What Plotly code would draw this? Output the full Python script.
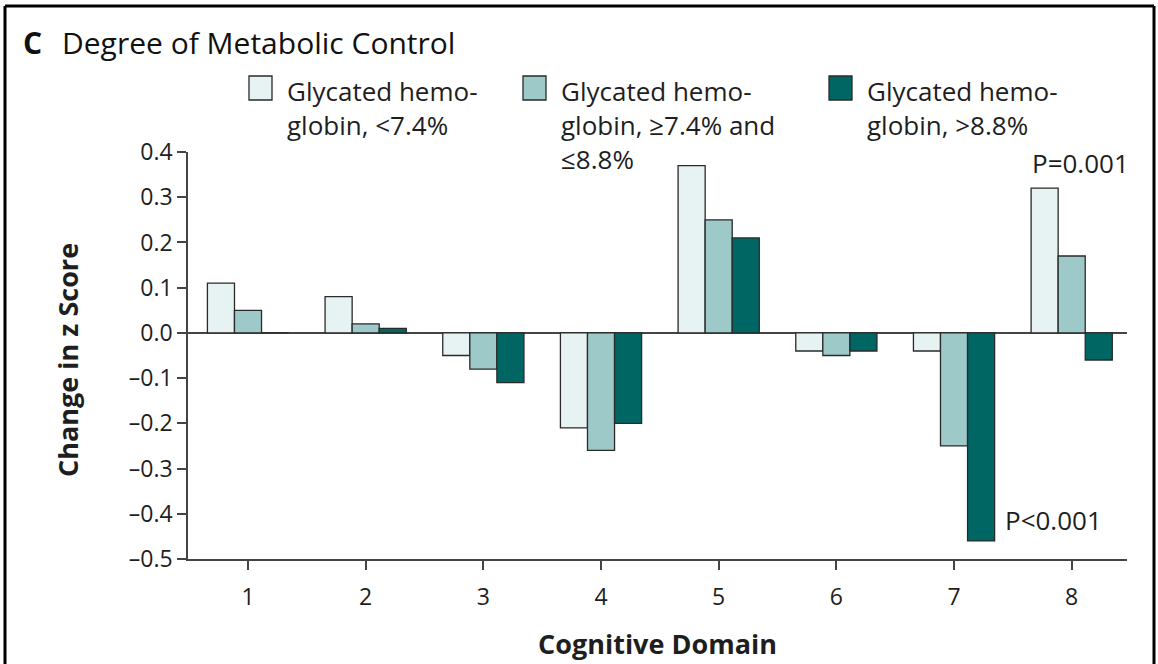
import plotly.graph_objects as go

domains = [1, 2, 3, 4, 5, 6, 7, 8]
domain_labels = ["1", "2", "3", "4", "5", "6", "7", "8"]
series_names = [
    "Glycated hemo-<br>globin, <7.4%",
    "Glycated hemo-<br>globin, ≥7.4% and<br>≤8.8%",
    "Glycated hemo-<br>globin, >8.8%",
]
low_vals = [0.11, 0.08, -0.05, -0.21, 0.37, -0.04, -0.04, 0.32]
mid_vals = [0.05, 0.02, -0.08, -0.26, 0.25, -0.05, -0.25, 0.17]
high_vals = [0.0, 0.01, -0.11, -0.20, 0.21, -0.04, -0.46, -0.06]
colors = ["#E7F2F2", "#9DC9C9", "#006664"]
y_ticks = [0.4, 0.3, 0.2, 0.1, 0.0, -0.1, -0.2, -0.3, -0.4, -0.5]
y_tick_text = ["0.4", "0.3", "0.2", "0.1", "0.0", "–0.1", "–0.2", "–0.3", "–0.4", "–0.5"]

W, H = 1158, 664
L, R, T, B = 188, 31, 152, 105
PW, PH = W - L - R, H - T - B
FONT = "Open Sans"
TXT = "#1e1e1e"


def px(x):
    return (x - L) / PW


def py(y):
    return (H - B - y) / PH


fig = go.Figure()
for name, vals, col in zip(series_names, [low_vals, mid_vals, high_vals], colors):
    fig.add_trace(go.Bar(
        x=domains, y=vals, name=name,
        marker=dict(color=col, line=dict(color="#2a2a2a", width=1.3)),
        showlegend=False,
    ))

shapes = []
annotations = []
# custom legend
leg_sq_x = [249, 523, 829]
for i, (name, col) in enumerate(zip(series_names, colors)):
    x0 = leg_sq_x[i]
    shapes.append(dict(type="rect", xref="paper", yref="paper",
                       x0=px(x0), x1=px(x0 + 23), y0=py(100), y1=py(76),
                       fillcolor=col, line=dict(color="#2a2a2a", width=1.3)))
    annotations.append(dict(xref="paper", yref="paper", x=px(x0 + 36), y=py(71),
                            xanchor="left", yanchor="top", align="left",
                            text=name, showarrow=False,
                            font=dict(family=FONT, size=26, color=TXT)))

# frame
frame = dict(color="black", width=3)
shapes.append(dict(type="line", xref="paper", yref="paper", x0=px(5), x1=px(5), y0=py(6), y1=py(700), line=frame))
shapes.append(dict(type="line", xref="paper", yref="paper", x0=px(5), x1=px(1154), y0=py(6), y1=py(6), line=frame))
shapes.append(dict(type="line", xref="paper", yref="paper", x0=px(1154), x1=px(1154), y0=py(6), y1=py(700), line=frame))

# title
annotations.append(dict(xref="paper", yref="paper", x=px(21), y=py(43), xanchor="left", yanchor="middle",
                        text="<b>C</b>", showarrow=False,
                        font=dict(family=FONT, size=30, color="#111")))
annotations.append(dict(xref="paper", yref="paper", x=px(60), y=py(43), xanchor="left", yanchor="middle",
                        text="Degree of Metabolic Control", showarrow=False,
                        font=dict(family=FONT, size=30, color="#111")))
# p-value annotations
annotations.append(dict(xref="paper", yref="paper", x=px(1030), y=py(163), xanchor="left", yanchor="middle",
                        text="P=0.001", showarrow=False, font=dict(family=FONT, size=26, color=TXT)))
annotations.append(dict(xref="paper", yref="paper", x=px(1003), y=py(520), xanchor="left", yanchor="middle",
                        text="P<0.001", showarrow=False, font=dict(family=FONT, size=26, color=TXT)))
# axis titles
annotations.append(dict(xref="paper", yref="paper", x=px(67), y=py(360), xanchor="center", yanchor="middle",
                        text="<b>Change in z Score</b>", textangle=-90, showarrow=False,
                        font=dict(family=FONT, size=27, color=TXT)))
annotations.append(dict(xref="paper", yref="paper", x=px(657), y=py(643), xanchor="center", yanchor="middle",
                        text="<b>Cognitive Domain</b>", showarrow=False,
                        font=dict(family=FONT, size=27, color=TXT)))

fig.update_layout(
    width=W, height=H,
    margin=dict(l=L, r=R, t=T, b=B, pad=0),
    paper_bgcolor="white", plot_bgcolor="white",
    barmode="group", bargap=0.31, bargroupgap=0,
    shapes=shapes, annotations=annotations,
    font=dict(family=FONT, size=22, color=TXT),
)
fig.update_xaxes(
    range=[0.49, 8.47], tickvals=domains, ticktext=domain_labels,
    showline=True, linecolor="#444", linewidth=1.5,
    ticks="outside", ticklen=9, tickcolor="#444", tickwidth=1.5,
    showgrid=False, zeroline=False, ticklabelstandoff=8,
    tickfont=dict(family=FONT, size=23, color=TXT),
)
fig.update_yaxes(
    range=[-0.5, 0.4], tickvals=y_ticks, ticktext=y_tick_text,
    showline=True, linecolor="#444", linewidth=1.5,
    ticks="outside", ticklen=9, tickcolor="#444", tickwidth=1.5,
    showgrid=False, zeroline=True, zerolinecolor="#444", zerolinewidth=1.5,
    tickfont=dict(family=FONT, size=23, color=TXT),
)

fig.write_html("out.html", config={"displayModeBar": False},
               post_script="document.body.style.margin='0';document.body.style.padding='0';")
